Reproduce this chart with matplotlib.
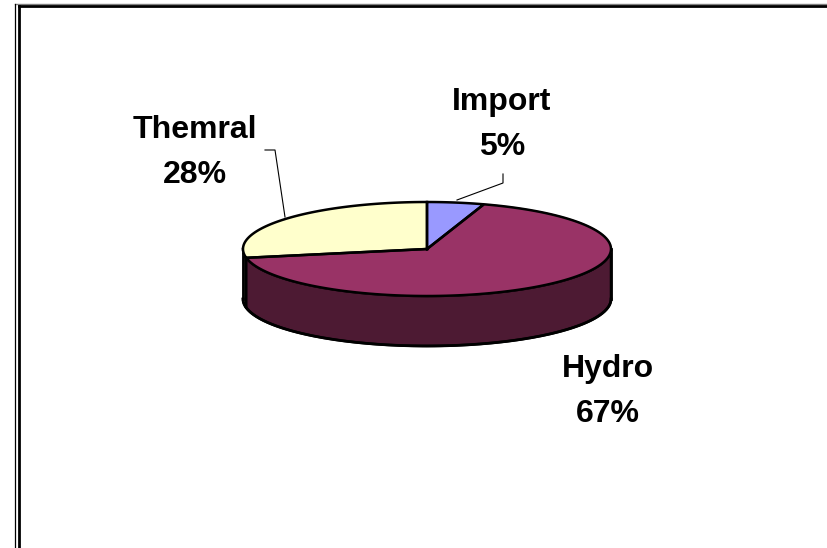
import numpy as np
import matplotlib
matplotlib.use('Agg')
import matplotlib.pyplot as plt
from matplotlib.colors import to_rgb

# data
labels = ['Import', 'Hydro', 'Themral']
values = [5, 67, 28]
colors = ['#9999FF', '#993366', '#FFFFCC']

# layout (pixel space of the 827x548 image)
cx, cy = 427, 249      # centre of the pie top
a, b = 184, 47         # ellipse half axes
depth = 50             # thickness of the pie
start_angle = 90       # first slice starts at 12 o'clock, clockwise

label_pos = {'Import': (502, 110), 'Hydro': (608, 377), 'Themral': (195, 138)}
line_gap = 45
leaders = {'Import': ([503, 503, 457], [174, 183, 200]),
           'Themral': ([265, 275, 285], [150, 150, 217])}

plt.rcParams['font.family'] = ['Liberation Sans', 'DejaVu Sans']

fig = plt.figure(figsize=(8.27, 5.48), dpi=100)
ax = fig.add_axes([0, 0, 1, 1])
ax.set_xlim(0, 827)
ax.set_ylim(548, 0)
ax.axis('off')


def pt(theta):
    t = np.radians(theta)
    return cx + a * np.cos(t), cy - b * np.sin(t)


fracs = np.array(values, dtype=float) / sum(values)
angles = []
ang = start_angle
for f in fracs:
    angles.append((ang, ang - 360 * f))
    ang -= 360 * f

# side walls (front half only)
for (st, en), col in zip(angles, colors):
    dark = tuple(c * 0.5 for c in to_rgb(col))
    for k in (-360, 0, 360):
        lo = max(en, -180 + k)
        hi = min(st, 0 + k)
        if hi <= lo:
            continue
        th = np.linspace(lo, hi, 80)
        xs, ys = pt(th)
        px = np.concatenate([xs, xs[::-1]])
        py = np.concatenate([ys, ys[::-1] + depth])
        ax.fill(px, py, color=dark, zorder=1)
        ax.plot(px, py, color='black', lw=1.8, zorder=2)

# side outline
th = np.linspace(-180, 0, 200)
xs, ys = pt(th)
ax.plot(xs, ys + depth, color='black', lw=2, zorder=3)
ax.plot([cx - a, cx - a], [cy, cy + depth], color='black', lw=2, zorder=3)
ax.plot([cx + a, cx + a], [cy, cy + depth], color='black', lw=2, zorder=3)

# top face wedges
for (st, en), col in zip(angles, colors):
    th = np.linspace(st, en, 120)
    xs, ys = pt(th)
    px = np.concatenate([[cx], xs, [cx]])
    py = np.concatenate([[cy], ys, [cy]])
    ax.fill(px, py, color=col, zorder=4)
    ax.plot(px, py, color='black', lw=1.8, zorder=5, solid_joinstyle='miter')

# labels
for lab, v in zip(labels, values):
    x, y = label_pos[lab]
    ax.text(x, y, lab, ha='center', va='baseline', fontsize=23, fontweight='bold')
    ax.text(x, y + line_gap, f'{v}%', ha='center', va='baseline', fontsize=23, fontweight='bold')

for lab, (lx, ly) in leaders.items():
    ax.plot(lx, ly, color='black', lw=0.8, zorder=6)

# chart frame
ax.plot([15, 827], [3.5, 3.5], color='#808080', lw=1)
ax.plot([19, 827], [5.5, 5.5], color='black', lw=2)
ax.plot([15, 15], [3.5, 548], color='black', lw=0.9)
ax.plot([19, 19], [5.5, 548], color='black', lw=2)

plt.savefig('out.png', dpi=100)
